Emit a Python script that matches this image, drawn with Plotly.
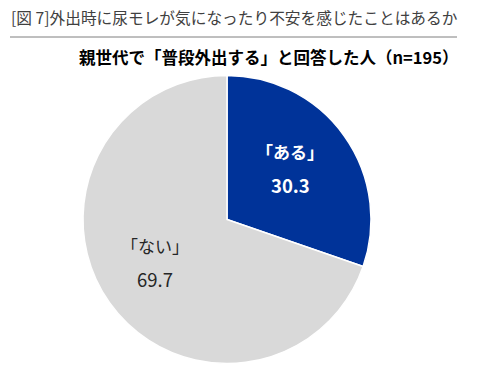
import plotly.graph_objects as go

labels = ["ある", "ない"]
values = [30.3, 69.7]
colors = ["#003399", "#D9D9D9"]
text_colors = ["#FFFFFF", "#262626"]
title_text = "[図 7]外出時に尿モレが気になったり不安を感じたことはあるか"
subtitle_text = "親世代で「普段外出する」と回答した人（n=195）"

W, H = 479, 372
fig = go.Figure()
fig.add_trace(go.Pie(
    labels=labels, values=values, sort=False, direction="clockwise", rotation=0,
    marker=dict(colors=colors, line=dict(color="white", width=1.5)),
    textinfo="none", hoverinfo="label+value", showlegend=False,
    domain=dict(x=[83 / W, 371 / W], y=[8 / H, 297 / H]),
))

font = "Noto Sans CJK JP, Meiryo, sans-serif"
# label positions (px) for each slice
pos = [(290, 151, 185), (155, 245, 279)]
annos = []
for i, (lab, val) in enumerate(zip(labels, values)):
    x, y1, y2 = pos[i]
    bold = i == 0
    annos.append(dict(x=x / W, y=1 - y1 / H, xref="paper", yref="paper", showarrow=False,
                      xanchor="center", yanchor="middle",
                      text=("<b>「%s」</b>" if bold else "「%s」") % lab,
                      font=dict(family=font, size=17, color=text_colors[i])))
    annos.append(dict(x=x / W, y=1 - y2 / H, xref="paper", yref="paper", showarrow=False,
                      xanchor="center", yanchor="middle",
                      text=("<b>%.1f</b>" if bold else "%.1f") % val,
                      font=dict(family=font, size=18.5, color=text_colors[i])))

annos.append(dict(x=9 / W, y=1 - 18 / H, xref="paper", yref="paper", showarrow=False,
                  xanchor="left", yanchor="middle", text=title_text,
                  font=dict(family=font, size=15.7, color="#404040")))
annos.append(dict(x=461 / W, y=1 - 57 / H, xref="paper", yref="paper", showarrow=False,
                  xanchor="right", yanchor="middle", text="<b>" + subtitle_text + "</b>",
                  font=dict(family=font, size=16.5, color="#000000")))

fig.update_layout(
    width=W, height=H, margin=dict(l=0, r=0, t=0, b=0),
    paper_bgcolor="white", plot_bgcolor="white",
    annotations=annos,
    shapes=[dict(type="line", xref="paper", yref="paper", x0=10 / W, x1=457 / W,
                 y0=1 - 37 / H, y1=1 - 37 / H, line=dict(color="#7F7F7F", width=1))],
)
fig.write_html("out.html")
